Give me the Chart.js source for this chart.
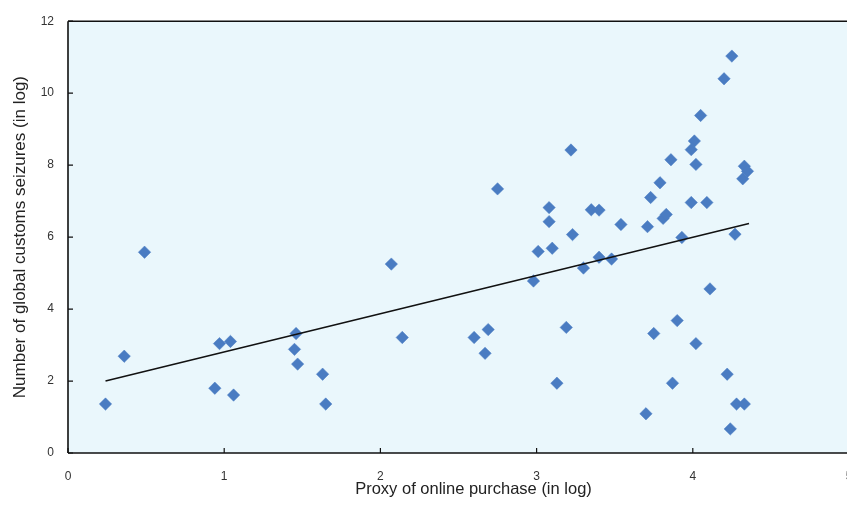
<!DOCTYPE html>
<html>
<head>
<meta charset="utf-8">
<script src="https://cdn.jsdelivr.net/npm/chart.js@4.4.0/dist/chart.umd.min.js"></script>
<style>
  html, body { margin: 0; padding: 0; background: #ffffff; overflow: hidden; }
  #wrap { width: 847px; height: 505px; overflow: hidden; }
  canvas { display: block; }
</style>
</head>
<body>
<div id="wrap"><canvas id="c" width="880" height="505"></canvas></div>
<script>
// Scatter data: proxy of online purchase (log) vs customs seizures (log)
const xValues = [0.24,0.36,0.49,0.94,0.97,1.04,1.06,1.46,1.45,1.47,1.63,1.65,2.07,2.14,2.60,2.69,2.67,2.75,2.98,3.01,
  3.08,3.08,3.10,3.13,3.19,3.22,3.23,3.30,3.35,3.40,3.40,3.48,3.54,3.70,3.73,3.71,3.75,3.79,3.81,3.83,
  3.86,3.87,3.90,3.93,3.99,3.99,4.01,4.02,4.02,4.05,4.09,4.11,4.20,4.22,4.24,4.25,4.27,4.28,4.33,4.32,4.33,4.35];
const yValues = [1.36,2.69,5.58,1.80,3.04,3.10,1.61,3.32,2.88,2.47,2.19,1.36,5.25,3.21,3.21,3.43,2.77,7.34,4.78,5.60,
  6.82,6.43,5.69,1.94,3.49,8.42,6.07,5.14,6.76,6.75,5.44,5.39,6.35,1.09,7.10,6.29,3.32,7.51,6.52,6.63,
  8.15,1.94,3.68,5.99,6.96,8.43,8.67,8.02,3.04,9.38,6.96,4.56,10.40,2.19,0.67,11.03,6.08,1.36,1.36,7.62,7.97,7.83];
// Linear trend line end points
const trendX = [0.24, 4.36];
const trendY = [2.00, 6.38];
// Tick labels
const xTicks = [0, 1, 2, 3, 4, 5];
const yTicks = [0, 2, 4, 6, 8, 10, 12];
const xTitle = 'Proxy of online purchase (in log)';
const yTitle = 'Number of global customs seizures (in log)';

const points = xValues.map((x, i) => ({ x: x, y: yValues[i] }));
const trend = trendX.map((x, i) => ({ x: x, y: trendY[i] }));

const FONT = '"Liberation Sans", Arial, sans-serif';

const bgPlugin = {
  id: 'bg',
  beforeDraw(chart) {
    const { ctx, chartArea: a } = chart;
    ctx.save();
    ctx.fillStyle = '#eaf7fc';
    ctx.fillRect(a.left, a.top, a.right - a.left, a.bottom - a.top);
    ctx.restore();
  },
  afterDraw(chart) {
    const { ctx, chartArea: a } = chart;
    const xs = chart.scales.x, ys = chart.scales.y;
    ctx.save();
    ctx.strokeStyle = '#111111';
    ctx.lineWidth = 1.6;
    ctx.beginPath();
    // frame: top, left, bottom
    ctx.moveTo(a.left, a.top); ctx.lineTo(a.right + 40, a.top);
    ctx.moveTo(a.left, a.top); ctx.lineTo(a.left, a.bottom);
    ctx.moveTo(a.left, a.bottom); ctx.lineTo(a.right + 40, a.bottom);
    ctx.stroke();
    ctx.lineWidth = 1.2;
    ctx.beginPath();
    xTicks.forEach(v => {
      const px = xs.getPixelForValue(v);
      ctx.moveTo(px, a.bottom); ctx.lineTo(px, a.bottom - 5);
    });
    yTicks.forEach(v => {
      const py = ys.getPixelForValue(v);
      ctx.moveTo(a.left, py); ctx.lineTo(a.left + 5, py);
    });
    ctx.stroke();
    // x axis title (centred slightly right of the plot centre, as in the source)
    ctx.fillStyle = '#222222';
    ctx.font = '16.5px ' + FONT;
    ctx.textAlign = 'center';
    ctx.textBaseline = 'middle';
    ctx.fillText(xTitle, (a.left + a.right) / 2 + 15, 489);
    ctx.restore();
  }
};

new Chart(document.getElementById('c'), {
  type: 'scatter',
  data: {
    datasets: [
      {
        label: 'Countries',
        data: points,
        pointStyle: 'rectRot',
        pointRadius: 6.2,
        pointHoverRadius: 6.2,
        backgroundColor: '#4a7cc2',
        borderColor: '#4a7cc2',
        borderWidth: 0.5,
        order: 2
      },
      {
        type: 'line',
        label: 'Trend',
        data: trend,
        borderColor: '#111111',
        borderWidth: 1.6,
        pointRadius: 0,
        fill: false,
        order: 1
      }
    ]
  },
  plugins: [bgPlugin],
  options: {
    responsive: false,
    animation: false,
    layout: { padding: { left: 0, right: 31, top: 17, bottom: 0 } },
    plugins: { legend: { display: false }, tooltip: { enabled: false } },
    scales: {
      x: {
        type: 'linear',
        min: 0, max: 5,
        afterBuildTicks: s => { s.ticks = xTicks.map(v => ({ value: v })); },
        afterFit: s => { s.height = 52; },
        grid: { display: false, drawTicks: false },
        border: { display: false },
        ticks: { padding: 16, color: '#333333', font: { family: FONT, size: 12 } },
        title: { display: false, text: xTitle }
      },
      y: {
        type: 'linear',
        min: 0, max: 12,
        afterBuildTicks: s => { s.ticks = yTicks.map(v => ({ value: v })); },
        afterFit: s => { s.width = 68; },
        grid: { display: false, drawTicks: false },
        border: { display: false },
        ticks: { padding: 14, color: '#333333', font: { family: FONT, size: 12 } },
        title: { display: true, text: yTitle, color: '#222222', padding: { top: 10, bottom: 0 },
                 font: { family: FONT, size: 17 } }
      }
    }
  }
});
</script>
</body>
</html>
